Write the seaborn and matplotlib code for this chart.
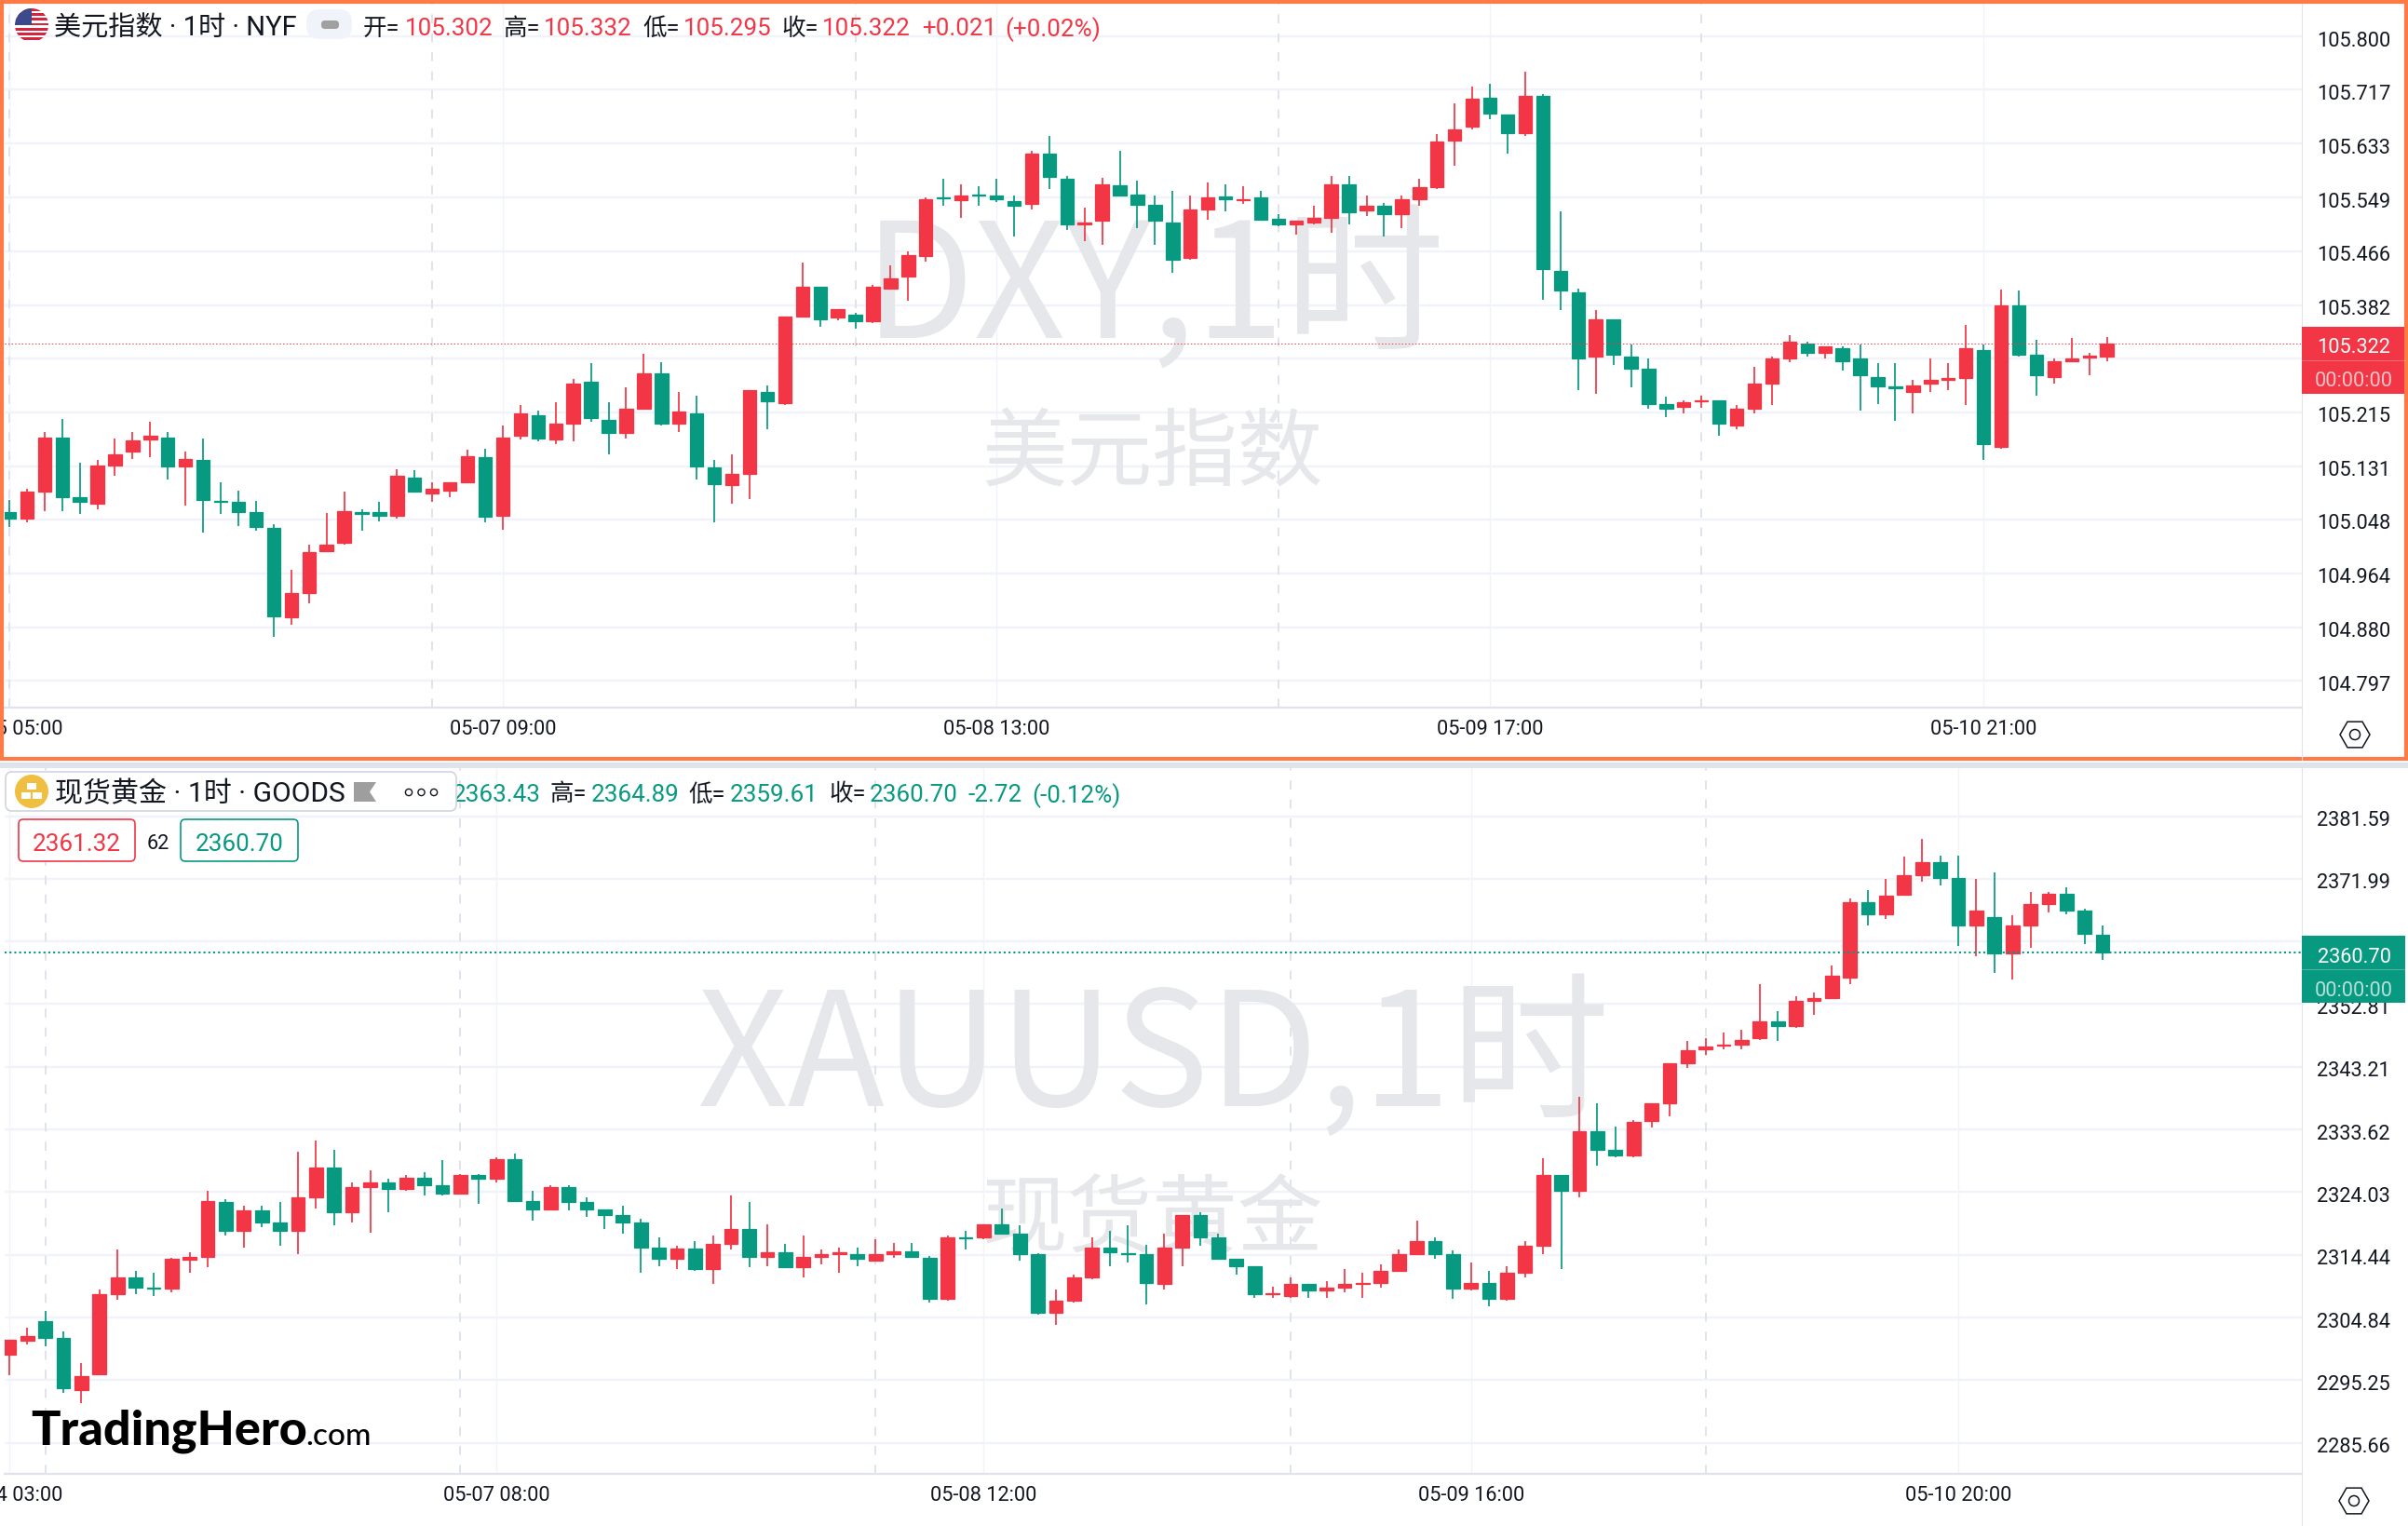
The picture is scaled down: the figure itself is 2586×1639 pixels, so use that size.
import numpy as np
import pandas as pd
import matplotlib
matplotlib.use('Agg')
import matplotlib.pyplot as plt
from matplotlib.patches import Circle, FancyBboxPatch, Rectangle, RegularPolygon
from matplotlib.transforms import ScaledTranslation
import seaborn as sns

# DXY 1h candles
dxy_open = [105.059,105.049,105.091,105.176,105.082,105.073,105.132,105.153,105.172,105.176,
            105.130,105.140,105.077,105.075,105.059,105.035,104.895,104.934,104.999,105.012,
            105.059,105.059,105.054,105.113,105.088,105.093,105.106,105.145,105.054,105.179,
            105.210,105.172,105.197,105.262,105.203,105.182,105.221,105.276,105.197,105.213,
            105.129,105.101,105.119,105.247,105.229,105.364,105.411,105.362,105.367,105.356,
            105.408,105.426,105.458,105.550,105.545,105.554,105.552,105.544,105.539,105.617,
            105.578,105.508,105.513,105.568,105.554,105.538,105.510,105.455,105.531,105.551,
            105.545,105.549,105.516,105.508,105.510,105.518,105.570,105.529,105.536,105.523,
            105.547,105.565,105.638,105.659,105.705,105.679,105.649,105.708,105.435,105.401,
            105.302,105.359,105.301,105.283,105.228,105.223,105.232,105.234,105.194,105.221,
            105.260,105.299,105.322,105.307,105.314,105.299,105.270,105.255,105.247,105.260,
            105.265,105.268,105.312,105.161,105.382,105.304,105.270,105.294,105.300,105.302]
dxy_high = [105.078,105.096,105.184,105.205,105.137,105.140,105.174,105.184,105.200,105.184,
            105.153,105.174,105.106,105.093,105.077,105.041,104.970,105.009,105.058,105.091,
            105.064,105.075,105.126,105.124,105.106,105.106,105.156,105.158,105.194,105.226,
            105.218,105.231,105.267,105.291,105.231,105.253,105.306,105.293,105.247,105.241,
            105.140,105.150,105.250,105.257,105.364,105.448,105.411,105.375,105.370,105.413,
            105.443,105.466,105.550,105.579,105.570,105.567,105.579,105.552,105.622,105.645,
            105.583,105.534,105.580,105.622,105.576,105.552,105.560,105.552,105.573,105.570,
            105.567,105.560,105.523,105.513,105.536,105.583,105.583,105.552,105.541,105.552,
            105.579,105.648,105.696,105.722,105.727,105.679,105.745,105.711,105.528,105.408,
            105.374,105.359,105.320,105.299,105.239,105.234,105.241,105.234,105.226,105.286,
            105.301,105.335,105.325,105.317,105.317,105.320,105.291,105.291,105.265,105.299,
            105.291,105.351,105.320,105.406,105.404,105.328,105.299,105.330,105.307,105.332]
dxy_low = [105.036,105.044,105.061,105.061,105.057,105.064,105.116,105.142,105.145,105.110,
           105.070,105.028,105.057,105.038,105.031,104.865,104.884,104.918,104.999,105.009,
           105.031,105.045,105.049,105.091,105.075,105.083,105.106,105.044,105.032,105.172,
           105.169,105.166,105.169,105.200,105.150,105.174,105.221,105.194,105.184,105.110,
           105.044,105.072,105.080,105.188,105.226,105.364,105.348,105.358,105.345,105.354,
           105.408,105.388,105.450,105.536,105.518,105.536,105.542,105.489,105.531,105.563,
           105.498,105.482,105.476,105.552,105.502,105.476,105.432,105.453,105.515,105.528,
           105.539,105.513,105.504,105.492,105.507,105.495,105.507,105.520,105.489,105.502,
           105.536,105.563,105.599,105.655,105.671,105.618,105.645,105.390,105.374,105.250,
           105.244,105.288,105.253,105.221,105.207,105.213,105.222,105.178,105.188,105.213,
           105.226,105.293,105.302,105.299,105.280,105.218,105.228,105.202,105.213,105.247,
           105.250,105.226,105.140,105.158,105.301,105.241,105.260,105.294,105.272,105.295]
dxy_close = [105.049,105.091,105.176,105.083,105.075,105.132,105.150,105.171,105.178,105.130,
             105.142,105.078,105.075,105.059,105.036,104.897,104.934,104.997,105.009,105.061,
             105.057,105.054,105.116,105.091,105.095,105.106,105.147,105.052,105.176,105.213,
             105.174,105.197,105.260,105.206,105.182,105.221,105.276,105.197,105.216,105.130,
             105.103,105.119,105.250,105.232,105.364,105.411,105.359,105.375,105.356,105.411,
             105.424,105.460,105.547,105.548,105.552,105.553,105.547,105.536,105.617,105.581,
             105.507,105.510,105.570,105.552,105.538,105.513,105.453,105.531,105.549,105.547,
             105.547,105.515,105.507,105.513,105.518,105.570,105.526,105.536,105.523,105.547,
             105.565,105.636,105.656,105.703,105.680,105.649,105.708,105.438,105.404,105.299,
             105.359,105.304,105.283,105.228,105.221,105.231,105.233,105.197,105.221,105.260,
             105.299,105.325,105.307,105.317,105.294,105.272,105.255,105.252,105.257,105.265,
             105.268,105.314,105.166,105.382,105.304,105.272,105.294,105.299,105.303,105.322]

# spot gold 1h candles
gold_open = [2299.15,2301.31,2304.29,2301.68,2293.78,2296.09,2308.39,2311.00,2309.44,2309.21,
             2313.61,2314.06,2322.48,2318.08,2321.21,2319.35,2318.08,2323.23,2327.85,2320.92,
             2324.79,2325.54,2324.49,2326.28,2325.02,2323.82,2326.58,2326.06,2329.11,2322.70,
             2321.44,2324.79,2322.48,2321.44,2320.47,2319.35,2315.55,2313.83,2315.33,2312.27,
             2316.07,2318.38,2314.06,2314.80,2312.57,2314.06,2314.58,2314.50,2313.54,2314.50,
             2315.03,2313.98,2307.65,2317.11,2317.11,2319.13,2317.64,2314.50,2305.56,2307.35,
             2311.00,2315.55,2314.73,2314.50,2309.96,2315.55,2320.47,2317.11,2313.83,2312.72,
             2308.47,2308.09,2309.96,2308.91,2309.44,2310.03,2310.18,2311.97,2314.50,2316.59,
             2314.50,2309.21,2310.18,2307.65,2311.67,2315.85,2326.58,2324.27,2333.29,2330.46,
             2329.71,2334.85,2337.61,2343.80,2345.89,2346.41,2346.63,2347.60,2350.21,2349.46,
             2353.27,2353.79,2356.92,2368.40,2366.61,2369.52,2372.57,2374.51,2372.05,2364.82,
             2366.16,2360.50,2364.82,2368.17,2369.66,2367.13,2363.43]
gold_high = [2301.39,2303.25,2305.86,2302.73,2297.88,2309.14,2315.25,2311.90,2311.67,2313.98,
             2314.80,2324.19,2322.93,2321.96,2321.96,2322.48,2330.23,2331.95,2330.53,2325.54,
             2327.33,2326.06,2326.58,2327.10,2328.89,2326.80,2326.80,2329.34,2329.93,2324.19,
             2325.02,2325.09,2323.23,2321.44,2321.96,2319.95,2317.11,2315.85,2316.52,2317.41,
             2323.52,2322.48,2319.13,2316.07,2317.41,2315.25,2315.55,2315.55,2316.82,2316.29,
             2316.29,2314.21,2317.41,2318.08,2319.13,2321.51,2318.98,2314.73,2309.14,2311.37,
             2317.11,2318.08,2318.98,2316.00,2317.64,2320.47,2320.92,2317.64,2313.83,2312.72,
             2309.59,2311.00,2309.96,2310.40,2312.27,2311.67,2312.94,2315.25,2319.65,2317.11,
             2315.10,2313.24,2311.90,2312.72,2316.52,2329.19,2326.58,2338.66,2337.61,2334.03,
             2335.00,2337.61,2343.72,2347.15,2347.60,2348.42,2348.94,2355.87,2351.70,2354.01,
             2354.61,2358.71,2368.92,2370.26,2371.97,2375.40,2378.09,2375.55,2375.55,2371.97,
             2372.94,2366.38,2369.96,2369.96,2370.71,2367.43,2364.89]
gold_low = [2296.02,2300.71,2300.42,2293.26,2291.70,2296.09,2307.57,2308.39,2308.09,2308.69,
            2311.67,2312.57,2317.41,2315.55,2318.68,2315.85,2314.50,2321.51,2318.98,2319.35,
            2317.78,2320.92,2324.19,2323.52,2323.52,2323.82,2322.26,2325.54,2322.48,2319.65,
            2321.29,2321.21,2320.24,2318.38,2317.64,2311.67,2312.72,2312.27,2311.97,2309.96,
            2315.25,2312.57,2312.72,2312.57,2311.00,2312.94,2311.67,2312.72,2313.54,2313.98,
            2313.98,2307.13,2307.42,2315.25,2316.82,2317.64,2313.54,2305.34,2303.70,2307.13,
            2310.70,2312.72,2313.24,2306.90,2309.14,2312.72,2315.85,2313.83,2311.37,2307.80,
            2307.80,2307.80,2307.80,2307.80,2308.69,2307.80,2309.44,2311.97,2314.50,2313.83,
            2307.65,2308.91,2306.60,2307.42,2311.00,2314.50,2312.27,2323.23,2328.07,2329.41,
            2329.41,2333.89,2335.60,2343.05,2345.07,2345.89,2345.89,2347.30,2347.15,2349.17,
            2351.18,2353.79,2355.87,2364.82,2365.86,2369.52,2371.53,2371.01,2361.69,2360.20,
            2357.59,2356.55,2361.39,2366.83,2366.61,2361.99,2359.61]
gold_close = [2301.39,2301.98,2301.68,2294.01,2295.80,2308.39,2311.00,2309.44,2309.21,2313.76,
              2314.13,2322.70,2318.08,2321.21,2319.35,2318.08,2323.23,2327.85,2320.92,2324.79,
              2325.54,2324.49,2326.28,2325.09,2323.82,2326.58,2326.13,2329.11,2322.70,2321.44,
              2324.79,2322.48,2321.44,2320.47,2319.35,2315.55,2313.83,2315.33,2312.19,2316.07,
              2318.38,2314.06,2314.80,2312.57,2314.06,2314.50,2314.80,2313.83,2314.50,2315.03,
              2314.06,2307.65,2317.11,2316.96,2319.13,2317.64,2314.50,2305.56,2307.35,2311.00,
              2315.55,2314.80,2314.58,2310.18,2315.55,2320.47,2317.11,2313.83,2312.72,2308.39,
              2308.62,2309.96,2308.91,2309.44,2309.96,2310.18,2311.97,2314.50,2316.59,2314.50,
              2309.21,2310.18,2307.65,2311.67,2315.85,2326.58,2324.27,2333.29,2330.53,2329.71,
              2334.78,2337.61,2343.72,2345.81,2346.33,2346.63,2347.38,2350.21,2349.46,2353.27,
              2353.79,2357.14,2368.40,2366.61,2369.44,2372.57,2374.51,2372.05,2364.82,2367.13,
              2360.50,2364.82,2368.10,2369.66,2367.13,2363.55,2360.70]

# axis ticks
dxy_yticks = [105.800,105.717,105.633,105.549,105.466,105.382,105.299,105.215,105.131,105.048,104.964,104.880,104.797]
dxy_ylabels = ['105.800','105.717','105.633','105.549','105.466','105.382','105.299','105.215','105.131','105.048','104.964','104.880','104.797']
dxy_xticks = [0, 28, 56, 84, 112]
dxy_xlabels = ['05-05 05:00', '05-07 09:00', '05-08 13:00', '05-09 17:00', '05-10 21:00']
dxy_days = [0, 24, 48, 72, 96]

gold_yticks = [2381.59,2371.99,2362.40,2352.81,2343.21,2333.62,2324.03,2314.44,2304.84,2295.25,2285.66]
gold_ylabels = ['2381.59','2371.99','2362.40','2352.81','2343.21','2333.62','2324.03','2314.44','2304.84','2295.25','2285.66']
gold_xticks = [0, 27, 54, 81, 108]
gold_xlabels = ['05-04 03:00', '05-07 08:00', '05-08 12:00', '05-09 16:00', '05-10 20:00']
gold_days = [2, 25, 48, 71, 94]

RED = '#F23645'
GREEN = '#089981'
GRID = '#F0F3FA'
LINE = '#E0E3EB'
INK = '#131722'
WATER = '#E6E7EA'
CJK = ['Noto Sans CJK SC', 'DejaVu Sans']
W, H = 2586, 1640

sns.set_theme(style='white')
plt.rcParams['font.family'] = ['Roboto', 'Noto Sans CJK SC', 'DejaVu Sans']
plt.rcParams['axes.unicode_minus'] = False

fig = plt.figure(figsize=(W / 100, H / 100), dpi=100)


def make_axes(top, bottom):
    ax = fig.add_axes([5 / W, 1 - bottom / H, 2467 / W, (bottom - top) / H])
    return ax


def draw_panel(ax, opens, highs, lows, closes, xlim, ylim, yticks, ylabels, xticks, xlabels, days):
    df = pd.DataFrame({'bar': np.arange(len(opens)), 'open': opens, 'high': highs, 'low': lows, 'close': closes})
    df['up'] = df['close'] >= df['open']
    df['base'] = df[['open', 'close']].min(axis=1)
    df['size'] = (df['close'] - df['open']).abs()

    ax.set_axisbelow(True)
    ax.grid(False)
    for d in days:
        ax.axvline(d, color=LINE, lw=1.4, ls=(0, (5, 5.5)), zorder=1)

    for up, color in [(True, RED), (False, GREEN)]:
        part = df[df['up'] == up]
        ax.vlines(part['bar'], part['low'], part['high'], color=color, lw=1.25, zorder=3)
        sns.barplot(data=part, x='bar', y='size', bottom=part['base'].values, native_scale=True,
                    color=color, saturation=1, width=0.76, errorbar=None, linewidth=0.9,
                    edgecolor=color, zorder=4, ax=ax)

    ax.set_xlabel('')
    ax.set_ylabel('')
    ax.set_xlim(*xlim)
    ax.set_ylim(*ylim)
    ax.yaxis.tick_right()
    ax.set_yticks(yticks, ylabels)
    ax.set_xticks(xticks, xlabels)
    ax.grid(True, axis='y', color=GRID, lw=1.7)
    ax.grid(True, axis='x', color=GRID, lw=1.0)
    ax.tick_params(axis='y', length=0, pad=11.5, labelsize=15.7, labelcolor=INK, right=False)
    ax.tick_params(axis='x', length=0, pad=8.5, labelsize=15.7, labelcolor=INK, bottom=False)
    # labels sit a touch under their grid line
    nudge = ScaledTranslation(0, -1.5 / 100, fig.dpi_scale_trans)
    for lab in ax.get_yticklabels():
        lab.set_verticalalignment('center_baseline')
        lab.set_transform(lab.get_transform() + nudge)
    sns.despine(ax=ax, top=True, left=True, right=False, bottom=False)
    ax.spines['bottom'].set_color(LINE)
    ax.spines['bottom'].set_linewidth(1.6)
    ax.spines['right'].set_color(LINE)
    ax.spines['right'].set_linewidth(0.8)


def watermark(ax, top, bottom, x, y, text, size):
    ax.text((x - 5) / 2467, (bottom - y) / (bottom - top), text, transform=ax.transAxes, ha='center',
            va='baseline', fontsize=size, color=WATER, zorder=2, family=CJK)


# top panel
ax1 = make_axes(5, 761)
draw_panel(ax1, dxy_open, dxy_high, dxy_low, dxy_close, (-0.259, 130.06), (104.755, 105.851),
           dxy_yticks, dxy_ylabels, dxy_xticks, dxy_xlabels, dxy_days)
ax1.axhline(dxy_close[-1], color=RED, lw=0.7, ls=(0, (1.5, 2.2)), zorder=5)
watermark(ax1, 5, 761, 1240, 364, 'DXY,1时', 124)
watermark(ax1, 5, 761, 1237, 515, '美元指数', 66)

# bottom panel
ax2 = make_axes(826, 1584)
draw_panel(ax2, gold_open, gold_high, gold_low, gold_close, (-0.253, 127.04), (2280.90, 2388.93),
           gold_yticks, gold_ylabels, gold_xticks, gold_xlabels, gold_days)
ax2.axhline(gold_close[-1], color=GREEN, lw=1.5, ls=(0, (1, 1.5)), zorder=5)
watermark(ax2, 826, 1584, 1238, 1188, 'XAUUSD,1时', 123)
watermark(ax2, 826, 1584, 1237, 1338, '现货黄金', 66)

# overlay in pixel coordinates for the header widgets and tags
ov = fig.add_axes([0, 0, 1, 1], zorder=10)
ov.set_xlim(0, W)
ov.set_ylim(H, 0)
ov.axis('off')
ov.patch.set_alpha(0)

# grey gap between the panels and the price column line
ov.add_patch(Rectangle((0, 820), W, 5.5, color=LINE, lw=0))
ov.plot([2472, 2472], [761, 817], color=LINE, lw=0.8)
ov.plot([2472, 2472], [1584, 1640], color=LINE, lw=0.8)


def label(x, y, text, color=INK, size=15.7, ha='left', **kw):
    ov.text(x, y, text, color=color, fontsize=size, ha=ha, va='center_baseline', **kw)


def tag(price_ax, price, text, color):
    y = H - price_ax.transData.transform((0, price))[1]
    ov.add_patch(Rectangle((2472, y - 18), 111, 36, color=color, lw=0))
    ov.add_patch(Rectangle((2472, y + 18), 111, 36, color=color, lw=0))
    ov.plot([2472, 2583], [y + 18, y + 18], color='white', lw=0.5, alpha=0.4)
    label(2528, y + 1.5, text, 'white', 15.7, ha='center')
    label(2528, y + 37.5, '00:00:00', 'white', 15.7, ha='center', alpha=0.7)


tag(ax1, dxy_close[-1], '105.322', RED)
tag(ax2, gold_close[-1], '2360.70', GREEN)

# top header
flag = Circle((34, 28), 18, color='white', lw=0)
ov.add_patch(flag)
for i in range(7):
    s = Rectangle((16, 10 + i * 5.2), 36, 2.7, color='#D6243C', lw=0)
    ov.add_patch(s)
    s.set_clip_path(flag)
canton = Rectangle((16, 10), 18, 18, color='#3C4A8C', lw=0)
ov.add_patch(canton)
canton.set_clip_path(flag)
label(58, 28, '美元指数 · 1时 · NYF', size=21)
ov.add_patch(FancyBboxPatch((329, 11), 49, 32, boxstyle='round,pad=0,rounding_size=14', fc=GRID, ec='none', lw=0))
ov.add_patch(FancyBboxPatch((345, 23), 19, 9, boxstyle='round,pad=0,rounding_size=4', fc='#A0A0A0', ec='none', lw=0))

for x, t in [(390, '开='), (540, '高='), (690, '低='), (839, '收=')]:
    label(x, 28, t, size=18.4)
for x, t in [(435, '105.302'), (584, '105.332'), (734, '105.295'), (883, '105.322'), (990, '+0.021'), (1079, '(+0.02%)')]:
    label(x, 29, t, RED, size=18.7)

# bottom header, the box covers the start of the first value
for x, t in [(591, '高='), (739, '低='), (890, '收=')]:
    label(x, 851, t, size=18.4)
for x, t in [(486, '2363.43'), (635, '2364.89'), (784, '2359.61'), (934, '2360.70'), (1040, '-2.72'), (1108, '(-0.12%)')]:
    label(x, 852, t, GREEN, size=18.7)
ov.add_patch(FancyBboxPatch((6, 830), 484, 42, boxstyle='round,pad=0,rounding_size=7', fc='white', ec='#D1D4DC',
                            lw=1.2, zorder=3.5))
ov.add_patch(Circle((34, 851), 18, color='#F0BE41', lw=0, zorder=3.6))
for cx, cy in [(34, 845), (28, 855), (40, 855)]:
    ov.add_patch(Rectangle((cx - 5, cy - 3.5), 10, 7, color='white', lw=0, zorder=3.7))
label(59, 850, '现货黄金 · 1时 · GOODS', size=21.6, zorder=4)
ov.fill([380, 404, 397, 404, 380], [841, 841, 851.5, 862, 862], color='#9E9E9E', lw=0, zorder=3.7)
for cx in [439, 452.5, 466]:
    ov.add_patch(Circle((cx, 852), 3.6, fc='white', ec=INK, lw=1.0, zorder=3.7))

for x0, x1, t, c in [(20, 145, '2361.32', RED), (194, 320, '2360.70', GREEN)]:
    ov.add_patch(FancyBboxPatch((x0, 881), x1 - x0, 45, boxstyle='round,pad=0,rounding_size=5', fc='white', ec=c, lw=1.2))
    label((x0 + x1) / 2, 904.5, t, c, size=18.7, ha='center')
label(170, 904, '62', size=15.7, ha='center')

# logo
ov.text(33, 1552, 'TradingHero', fontsize=37.5, family='Lato', fontweight='black', color='black', va='baseline')
ov.text(328, 1552, '.com', fontsize=24, family='Lato', fontweight='medium', color='black', va='baseline')

# settings icons
for cx, cy in [(2529, 790), (2528, 1613)]:
    ov.add_patch(RegularPolygon((cx, cy), 6, radius=16, orientation=np.pi / 2, fc='white', ec=INK, lw=1.1))
    ov.add_patch(Circle((cx, cy), 5.5, fc='white', ec=INK, lw=1.1))

# orange selection frame around the top panel
ov.add_patch(Rectangle((2, 3), W - 4, 813, fc='none', ec='#FF7A45', lw=3))

plt.savefig('out.png', dpi=100)
